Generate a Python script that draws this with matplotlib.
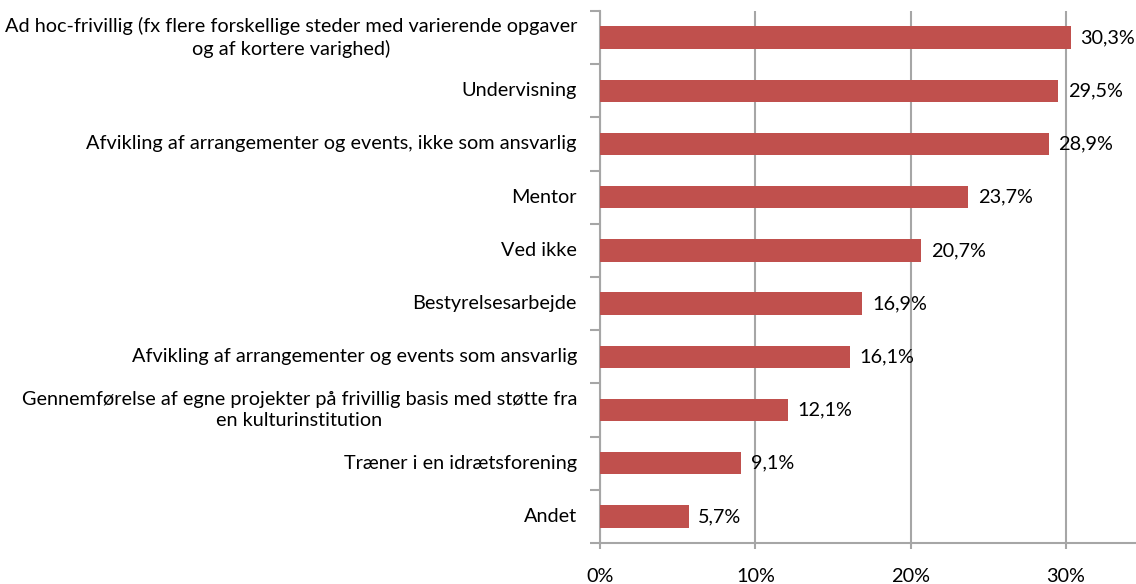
import matplotlib.pyplot as plt
from matplotlib.ticker import FixedLocator

plt.rcParams['font.family'] = ['Lato', 'DejaVu Sans']

# categories, top to bottom as in the reference
categories = [
    "Ad hoc-frivillig (fx flere forskellige steder med varierende opgaver\nog af kortere varighed)",
    "Undervisning",
    "Afvikling af arrangementer og events, ikke som ansvarlig",
    "Mentor",
    "Ved ikke",
    "Bestyrelsesarbejde",
    "Afvikling af arrangementer og events som ansvarlig",
    "Gennemførelse af egne projekter på frivillig basis med støtte fra\nen kulturinstitution",
    "Træner i en idrætsforening",
    "Andet",
]
values = [30.3, 29.5, 28.9, 23.7, 20.7, 16.9, 16.1, 12.1, 9.1, 5.7]
xticks = [0, 10, 20, 30]
xticklabels = ["0%", "10%", "20%", "30%"]

W, H = 1136, 584
FS = 14.3
fig = plt.figure(figsize=(W / 100, H / 100), dpi=100)
ax = fig.add_axes([600 / W, 1 - 543 / H, 536 / W, 532 / H])

n = len(categories)
ypos = list(range(n))
ax.barh(ypos, values, height=0.42, color="#C0504D", zorder=3)
ax.set_ylim(n - 0.5, -0.5)
ax.set_xlim(0, 536 / 15.53)

# gridlines
ax.set_xticks(xticks)
ax.set_xticklabels(xticklabels, fontsize=FS)
ax.grid(axis="x", color="#A6A6A6", linewidth=1.5, zorder=0)
ax.tick_params(axis="x", length=4, width=1.5, color="#A6A6A6", pad=14)

# y ticks at category boundaries, labels at centres
ax.yaxis.set_major_locator(FixedLocator([i - 0.5 for i in range(n + 1)]))
ax.yaxis.set_major_formatter(plt.NullFormatter())
ax.tick_params(axis="y", length=7, width=1.5, color="#A6A6A6")
for i, lab in enumerate(categories):
    ax.text(-0.043, i, lab, transform=ax.get_yaxis_transform(), ha="right",
            va="center", multialignment="center", fontsize=FS, color="black",
            linespacing=1.3)

for s in ["top", "right"]:
    ax.spines[s].set_visible(False)
for s in ["left", "bottom"]:
    ax.spines[s].set_color("#A6A6A6")
    ax.spines[s].set_linewidth(1.5)

for i, v in enumerate(values):
    ax.text(v + 0.62, i, f"{v:.1f}%".replace(".", ","), ha="left", va="center",
            fontsize=FS, color="black", zorder=4)

fig.savefig("out.png", dpi=100)
